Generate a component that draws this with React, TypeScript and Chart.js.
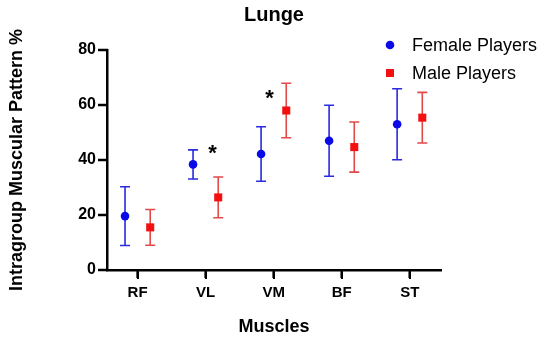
import React, { useEffect, useRef } from "react";
import { Chart, registerables } from "chart.js";

Chart.register(...registerables);

const categories = ["RF", "VL", "VM", "BF", "ST"];
const femaleMean = [19.6, 38.4, 42.2, 47.0, 53.0];
const femaleSD = [10.7, 5.3, 9.9, 12.9, 12.9];
const maleMean = [15.5, 26.4, 58.0, 44.7, 55.4];
const maleSD = [6.5, 7.4, 9.9, 9.1, 9.2];
const yTicks = [0, 20, 40, 60, 80];
const asteriskX = [2.1, 2.94];
const asteriskY = [44, 64];

const FONT = "'Liberation Sans', Arial, sans-serif";
const OFFSET = 0.185;
const TICK_LEN = 9;

const errorBarPlugin = {
  id: "errorBars",
  beforeDatasetsDraw(chart: any) {
    const { ctx, scales } = chart;
    const xs = scales.x;
    const ys = scales.y;
    chart.data.datasets.forEach((ds: any) => {
      ctx.save();
      ctx.strokeStyle = ds.errorColor;
      ctx.lineWidth = 1.6;
      ds.data.forEach((p: any, i: number) => {
        const sd = ds.sd[i];
        const x = xs.getPixelForValue(p.x);
        const yt = ys.getPixelForValue(p.y + sd);
        const yb = ys.getPixelForValue(p.y - sd);
        ctx.beginPath();
        ctx.moveTo(x, yt);
        ctx.lineTo(x, yb);
        ctx.moveTo(x - 5, yt);
        ctx.lineTo(x + 5, yt);
        ctx.moveTo(x - 5, yb);
        ctx.lineTo(x + 5, yb);
        ctx.stroke();
      });
      ctx.restore();
    });
  },
};

const overlayPlugin = {
  id: "overlay",
  afterDraw(chart: any) {
    const { ctx, scales, chartArea } = chart;
    const axisX = scales.y.right;
    ctx.save();
    // axis tick marks
    ctx.fillStyle = "#000";
    categories.forEach((_, i) => {
      const x = scales.x.getPixelForValue(i + 1);
      ctx.fillRect(x - 1.25, chartArea.bottom, 2.5, TICK_LEN - 1);
    });
    yTicks.forEach((v) => {
      const y = scales.y.getPixelForValue(v);
      ctx.fillRect(axisX - TICK_LEN, y - 1.25, TICK_LEN + 1, 2.5);
    });
    // significance asterisks
    ctx.font = `bold 22px ${FONT}`;
    ctx.textAlign = "center";
    ctx.textBaseline = "alphabetic";
    asteriskX.forEach((ax, i) => {
      const x = scales.x.getPixelForValue(ax);
      const y = scales.y.getPixelForValue(asteriskY[i]);
      ctx.fillText("*", x, y + 11);
    });
    // legend
    chart.data.datasets.forEach((ds: any, i: number) => {
      const cy = 45 + i * 28;
      const cx = 390;
      ctx.fillStyle = ds.backgroundColor;
      if (ds.pointStyle === "rect") {
        ctx.fillRect(cx - 4, cy - 4, 8, 8);
      } else {
        ctx.beginPath();
        ctx.arc(cx, cy, 4.3, 0, Math.PI * 2);
        ctx.fill();
      }
      ctx.fillStyle = "#000";
      ctx.font = `18px ${FONT}`;
      ctx.textAlign = "left";
      ctx.textBaseline = "middle";
      ctx.fillText(ds.label, 412, cy + 1);
    });
    ctx.restore();
  },
};

export default function App() {
  const ref = useRef<HTMLCanvasElement | null>(null);

  useEffect(() => {
    if (!ref.current) return;
    const chart = new Chart(ref.current, {
      type: "scatter",
      data: {
        datasets: [
          {
            label: "Female Players",
            data: femaleMean.map((v, i) => ({ x: i + 1 - OFFSET, y: v })),
            sd: femaleSD,
            errorColor: "#2a2ae0",
            backgroundColor: "#0a0ae8",
            borderColor: "#0a0ae8",
            pointStyle: "circle",
            pointRadius: 4.3,
            pointBorderWidth: 0,
          } as any,
          {
            label: "Male Players",
            data: maleMean.map((v, i) => ({ x: i + 1 + OFFSET, y: v })),
            sd: maleSD,
            errorColor: "#e24a4a",
            backgroundColor: "#f41010",
            borderColor: "#f41010",
            pointStyle: "rect",
            pointRadius: 5.7,
            pointBorderWidth: 0,
          } as any,
        ],
      },
      options: {
        animation: false,
        responsive: false,
        layout: { padding: { left: 0, right: 109, top: 0, bottom: 0 } },
        plugins: {
          legend: { display: false },
          tooltip: { enabled: false },
          title: {
            display: true,
            text: "Lunge",
            color: "#000",
            fullSize: false,
            font: { family: FONT, size: 20, weight: "bold" },
            padding: { top: 3, bottom: 23 },
          },
        },
        scales: {
          x: {
            type: "linear",
            min: 0.55,
            max: 5.46,
            afterBuildTicks: (s: any) => {
              s.ticks = categories.map((_, i) => ({ value: i + 1 }));
            },
            afterFit: (s: any) => {
              s.height = 73;
            },
            ticks: {
              color: "#000",
              font: { family: FONT, size: 15, weight: "bold" },
              padding: 5,
              callback: (v: any) => categories[Math.round(v) - 1] ?? "",
              maxRotation: 0,
            },
            grid: {
              drawOnChartArea: false,
              drawTicks: true,
              tickLength: TICK_LEN,
              color: "#000",
              lineWidth: 2,
            },
            border: { display: true, color: "#000", width: 2.5 },
            title: {
              display: true,
              text: "Muscles",
              color: "#000",
              font: { family: FONT, size: 18, weight: "bold" },
              padding: { top: 0, bottom: 5 },
            },
          },
          y: {
            min: 0,
            max: 80,
            afterBuildTicks: (s: any) => {
              s.ticks = yTicks.map((v) => ({ value: v }));
            },
            afterFit: (s: any) => {
              s.width = 107;
            },
            ticks: {
              color: "#000",
              font: { family: FONT, size: 16, weight: "bold" },
              padding: 2,
            },
            grid: {
              drawOnChartArea: false,
              drawTicks: true,
              tickLength: TICK_LEN,
              color: "#000",
              lineWidth: 2,
            },
            border: { display: true, color: "#000", width: 2.5 },
            title: {
              display: true,
              text: "Intragroup Muscular Pattern %",
              color: "#000",
              font: { family: FONT, size: 18, weight: "bold" },
              padding: { top: 6, bottom: 0 },
            },
          },
        },
      },
      plugins: [errorBarPlugin, overlayPlugin],
    });
    return () => chart.destroy();
  }, []);

  return (
    <div style={{ position: "fixed", left: 0, top: 0, width: 550, height: 343, background: "#fff" }}>
      <canvas ref={ref} width={550} height={343} />
    </div>
  );
}
